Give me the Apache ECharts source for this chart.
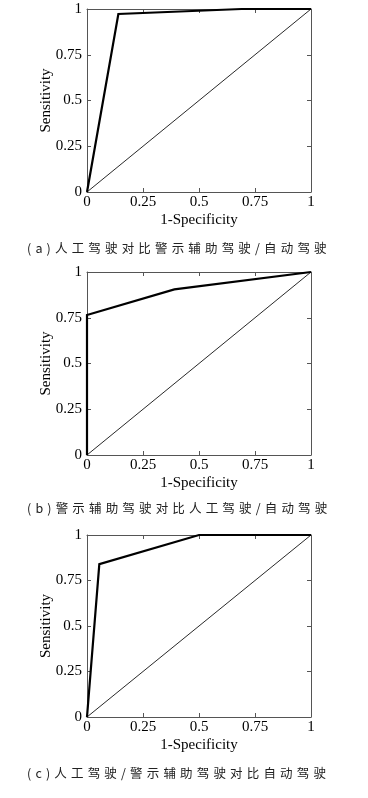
<!DOCTYPE html>
<html>
<head>
<meta charset="utf-8">
<script src="https://cdn.jsdelivr.net/npm/echarts@6/dist/echarts.min.js"></script>
<style>
html,body{margin:0;padding:0;background:#fff;}
#c{width:368px;height:798px;}
</style>
</head>
<body>
<div id="c"></div>
<script>
// Data
var ticks = [0, 0.25, 0.5, 0.75, 1];
var fprA = [0, 0.14, 0.69, 1];
var tprA = [0, 0.973, 1, 1];
var fprB = [0, 0, 0.39, 1];
var tprB = [0, 0.765, 0.905, 1];
var fprC = [0, 0.055, 0.5, 1];
var tprC = [0, 0.84, 1, 1];
var diagX = [0, 1];
var diagY = [0, 1];
var captions = [
  ['(a)', '人工驾驶对比警示辅助驾驶/自动驾驶'],
  ['(b)', '警示辅助驾驶对比人工驾驶/自动驾驶'],
  ['(c)', '人工驾驶/警示辅助驾驶对比自动驾驶']
];
var xName = '1-Specificity';
var yName = 'Sensitivity';

function pairs(xs, ys){ return xs.map(function(x,i){ return [x, ys[i]]; }); }
function spaced(s, sp){ return Array.from(s).join(sp); }

var grids = [
  {left:87, right:57, top:9, height:183},
  {left:87, right:57, top:272, height:183},
  {left:87, right:57, top:535, height:182}
];
var captionTop = [237, 497, 762];
var rocs = [pairs(fprA,tprA), pairs(fprB,tprB), pairs(fprC,tprC)];

var serif = '"Liberation Serif", "Times New Roman", serif';
var axisColor = '#555';
var xAxes = [], yAxes = [], series = [], titles = [];
grids.forEach(function(g, i){
  var base = {
    type:'value', min:0, max:1, interval:0.25,
    splitLine:{show:false},
    axisLine:{show:true, onZero:false, lineStyle:{color:axisColor, width:1}},
    axisTick:{show:true, inside:true, length:4, lineStyle:{color:axisColor}}
  };
  xAxes.push(Object.assign({}, base, {
    gridIndex:i, position:'bottom',
    name:xName, nameLocation:'middle', nameGap:21, nameMoveOverlap:false,
    nameTextStyle:{fontFamily:serif, fontSize:15, color:'#000'},
    axisLabel:{show:true, margin:3, fontFamily:serif, fontSize:15, color:'#000'}
  }));
  xAxes.push(Object.assign({}, base, {
    gridIndex:i, position:'top', axisLabel:{show:false}
  }));
  yAxes.push(Object.assign({}, base, {
    gridIndex:i, position:'left',
    name:yName, nameLocation:'middle', nameGap:33, nameRotate:90, nameMoveOverlap:false,
    nameTextStyle:{fontFamily:serif, fontSize:15, color:'#000'},
    axisLabel:{show:true, margin:5, fontFamily:serif, fontSize:15, color:'#000'}
  }));
  yAxes.push(Object.assign({}, base, {
    gridIndex:i, position:'right', axisLabel:{show:false}
  }));
  series.push({
    type:'line', xAxisIndex:2*i, yAxisIndex:2*i, data:pairs(diagX, diagY),
    symbol:'none', clip:false, silent:true,
    lineStyle:{color:'#111', width:0.9}
  });
  series.push({
    type:'line', xAxisIndex:2*i, yAxisIndex:2*i, data:rocs[i],
    symbol:'none', clip:false, silent:true,
    lineStyle:{color:'#000', width:2.2, join:'miter'}
  });
  titles.push({
    left:22, top:captionTop[i],
    text: spaced(captions[i][0], '\u2004') + '\u2004' + spaced(captions[i][1], '\u2004'),
    textStyle:{fontFamily:'"Noto Sans CJK SC", sans-serif', fontSize:12.5, fontWeight:'normal', color:'#222'}
  });
});

var chart = echarts.init(document.getElementById('c'), null, {renderer:'canvas'});
chart.setOption({
  animation:false,
  backgroundColor:'#fff',
  title:titles,
  grid:grids,
  xAxis:xAxes,
  yAxis:yAxes,
  series:series
});
</script>
</body>
</html>
